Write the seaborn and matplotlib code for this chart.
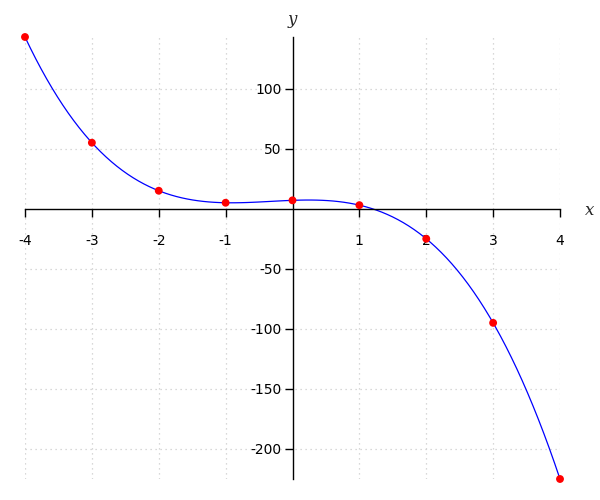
import matplotlib
matplotlib.use('Agg')
import matplotlib.pyplot as plt
import seaborn as sns
import pandas as pd

# Points sampled along the curve
x_vals = [-4, -3, -2, -1, 0, 1, 2, 3, 4]
y_vals = [143, 55, 15, 5, 7, 3, -25, -95, -225]

x_ticks = [-4, -3, -2, -1, 1, 2, 3, 4]
y_ticks = [-200, -150, -100, -50, 50, 100]

df = pd.DataFrame({'x': x_vals, 'y': y_vals})

sns.set_style('white')
plt.rcParams['axes.unicode_minus'] = False
plt.rcParams['font.family'] = ['DejaVu Sans']

fig = plt.figure(figsize=(6, 5), dpi=100)
ax = fig.add_axes([25 / 600, 21 / 500, 535 / 600, 442 / 500])

# smooth cubic through the points, then the points on top
sns.regplot(data=df, x='x', y='y', order=3, ci=None, scatter=False,
            line_kws={'color': 'blue', 'lw': 0.9, 'clip_on': False}, ax=ax)
sns.scatterplot(data=df, x='x', y='y', color='red', s=32, edgecolor='none',
                zorder=5, clip_on=False, ax=ax)

ax.set_xlim(min(x_vals), max(x_vals))
ax.set_ylim(min(y_vals), max(y_vals))
ax.set_xticks(x_ticks)
ax.set_yticks(y_ticks)
ax.set_xlabel('')
ax.set_ylabel('')

# spines through the origin
ax.spines['left'].set_position(('data', 0))
ax.spines['bottom'].set_position(('data', 0))
ax.spines['top'].set_visible(False)
ax.spines['right'].set_visible(False)
for s in ('left', 'bottom'):
    ax.spines[s].set_color('black')
    ax.spines[s].set_linewidth(1)

ax.tick_params(axis='both', direction='out', length=6, width=1, colors='black',
               labelsize=10, pad=8)
ax.tick_params(axis='x', bottom=True, pad=12)
ax.tick_params(axis='y', left=True, pad=2)

ax.grid(True, color='#cccccc', linestyle=(0, (1, 3)), linewidth=0.9)
ax.set_axisbelow(True)

fig.text(590 / 600, 1 - 211 / 500, 'x', family='serif', style='italic',
         fontsize=12, ha='center', va='center')
fig.text(292 / 600, 1 - 20 / 500, 'y', family='serif', style='italic',
         fontsize=12, ha='center', va='center')

fig.savefig('out.png', dpi=100)
